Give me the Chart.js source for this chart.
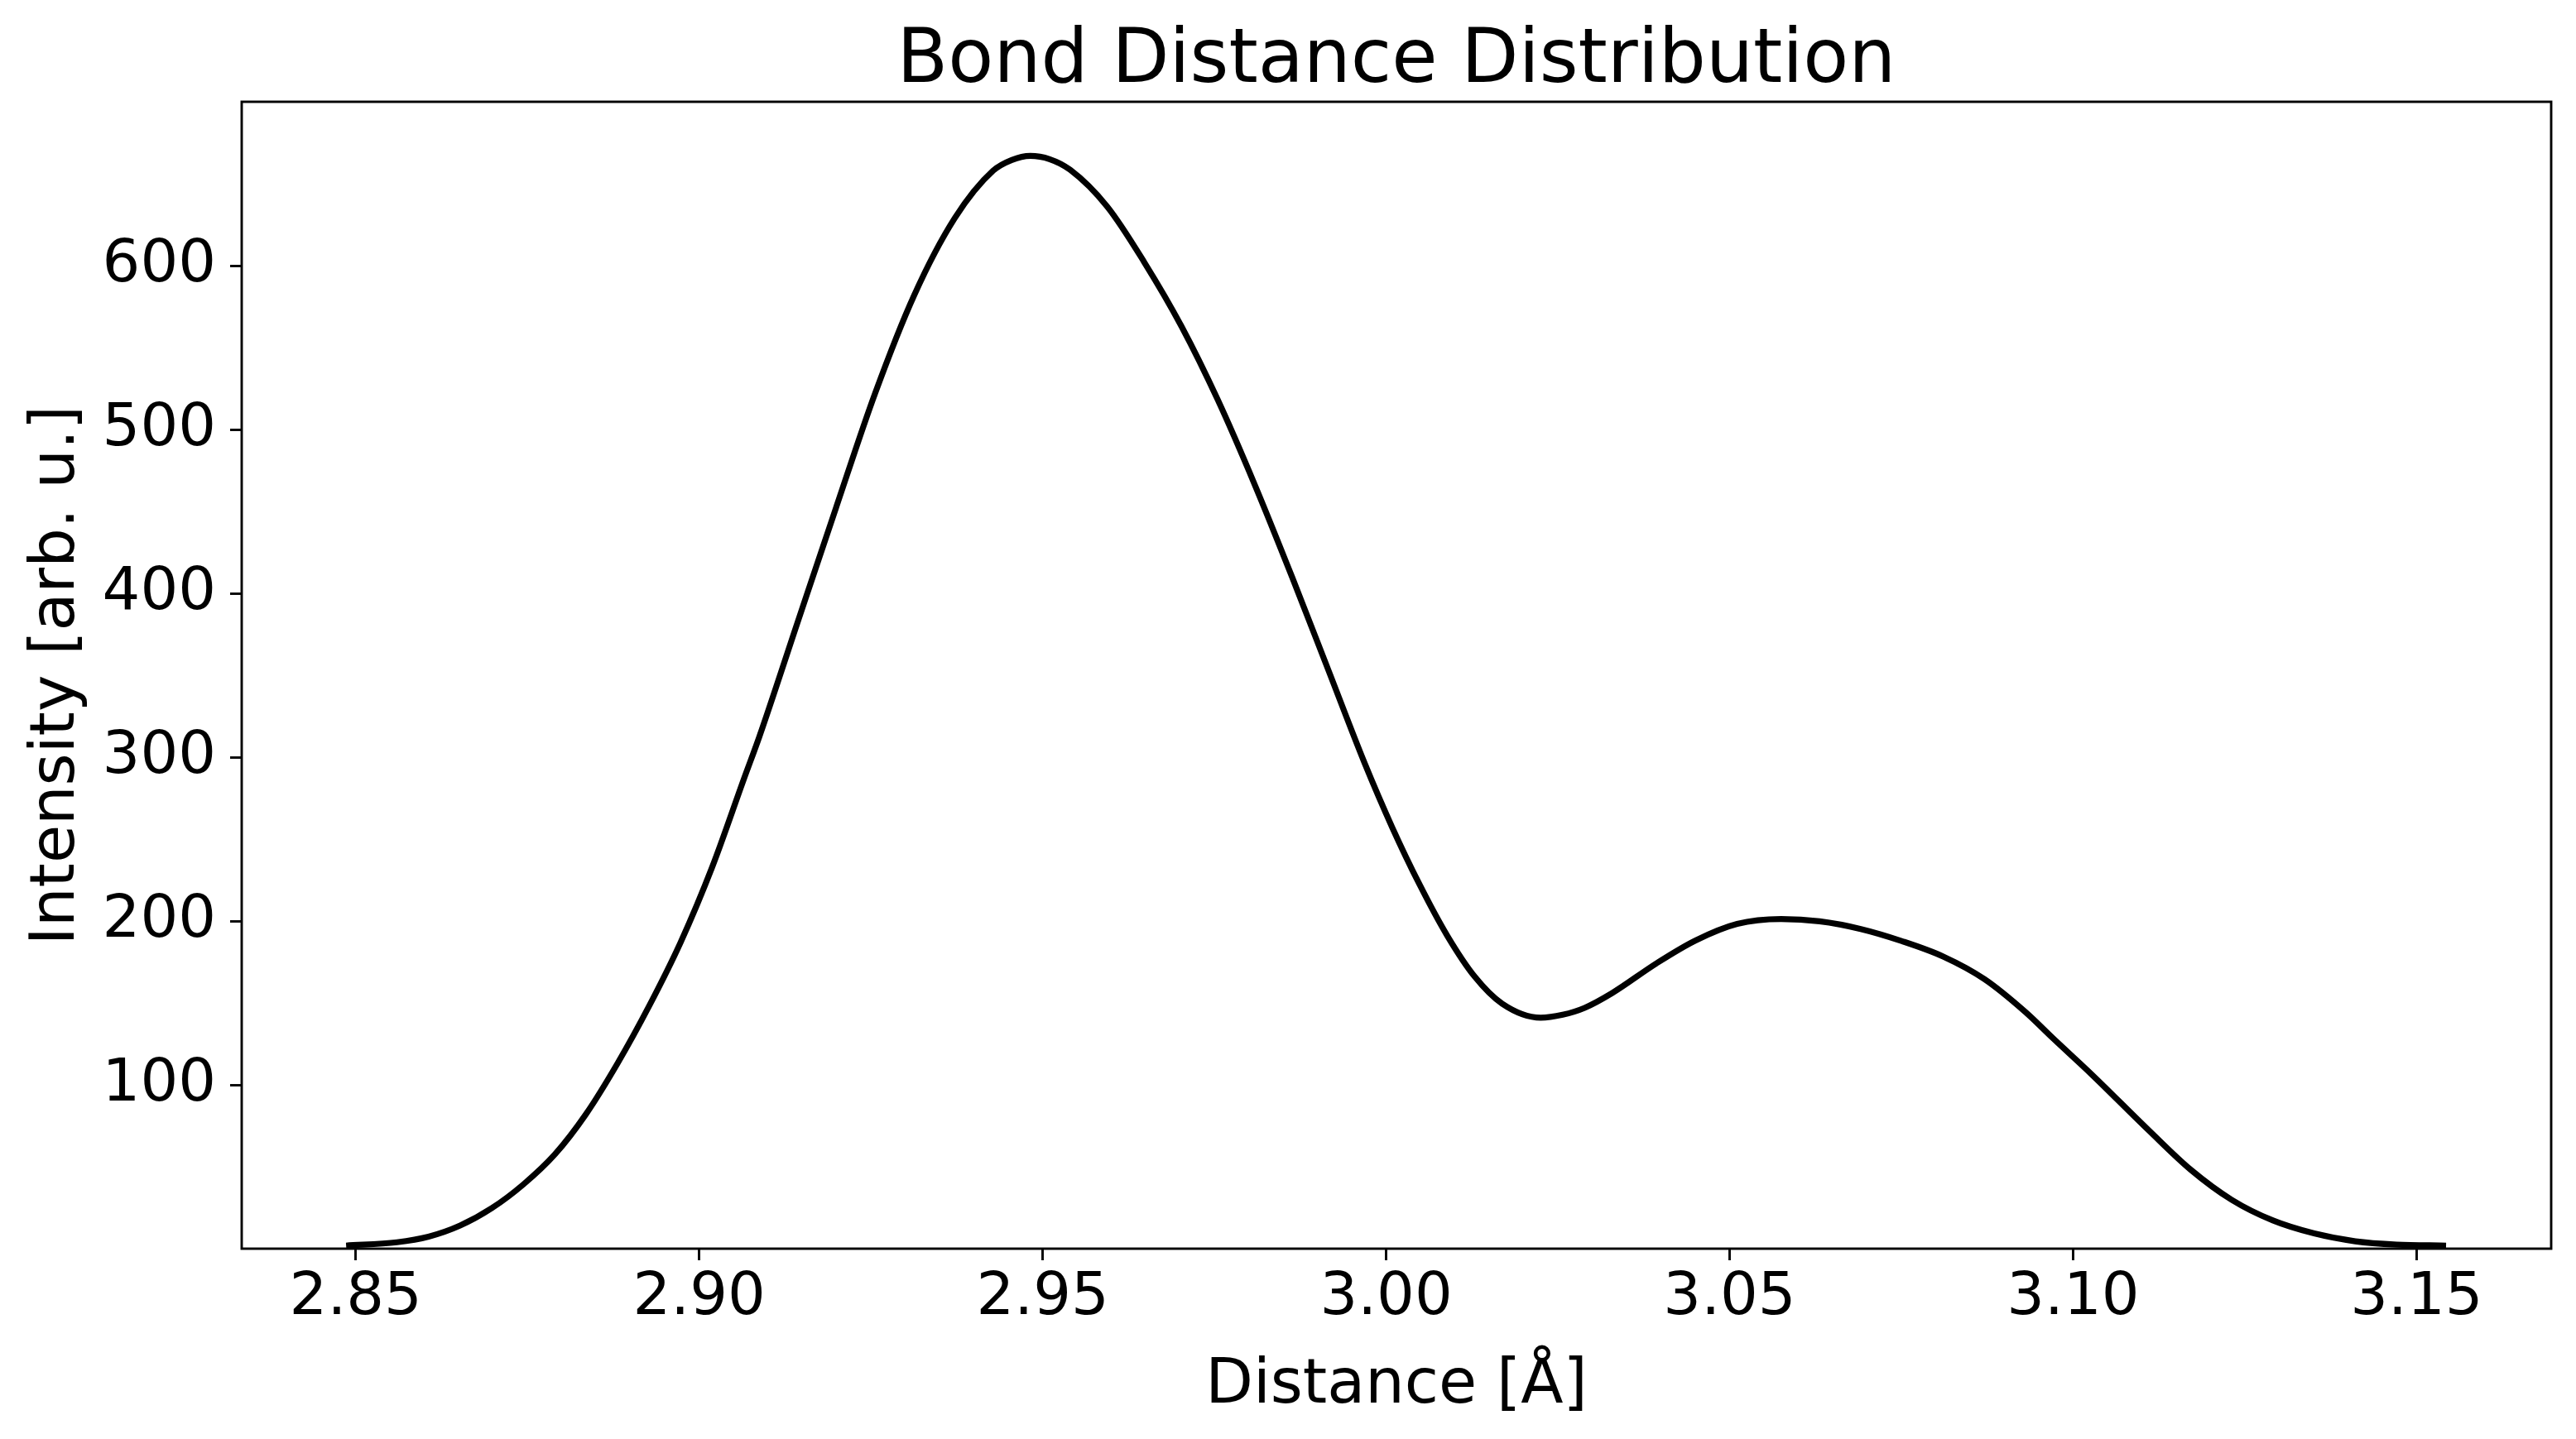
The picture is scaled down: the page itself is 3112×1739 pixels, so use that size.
<!DOCTYPE html>
<html>
<head>
<meta charset="utf-8">
<title>Bond Distance Distribution</title>
<script src="https://cdn.jsdelivr.net/npm/chart.js@4.4.0/dist/chart.umd.min.js"></script>
<style>
  html, body { margin: 0; padding: 0; background: #fff; }
  #wrap { width: 3112px; height: 1739px; }
</style>
</head>
<body>
<div id="wrap"><canvas id="bond_chart" width="3112" height="1739"></canvas></div>
<script>
// values
const distances = [
  2.8486, 2.8560, 2.8606, 2.8652, 2.8698, 2.8744, 2.8790, 2.8835, 2.8881, 2.8927,
  2.8973, 2.9019, 2.9065, 2.9088, 2.9143, 2.9199, 2.9256, 2.9313, 2.9372, 2.9428,
  2.9455, 2.9482, 2.9510, 2.9540, 2.9594, 2.9648, 2.9702, 2.9755, 2.9809, 2.9863,
  2.9916, 2.9969, 3.0009, 3.0049, 3.0089, 3.0129, 3.0169, 3.0225, 3.0257, 3.0289,
  3.0329, 3.0393, 3.0450, 3.0511, 3.0575, 3.0631, 3.0691, 3.0751, 3.0811, 3.0871,
  3.0931, 3.0971, 3.1027, 3.1111, 3.1171, 3.1231, 3.1291, 3.1351, 3.1411, 3.1471,
  3.1543
];
const intensities = [
  1.9, 3.9, 7.3, 14.1, 24.7, 39.2, 57.6, 82, 113, 148,
  187, 233, 286.6, 313, 382, 452, 522, 582, 629, 658,
  664.5, 667, 665, 658.5, 636, 602, 563, 518, 466, 410,
  353, 296, 257, 222, 191, 166, 149.5, 141, 142.8, 147,
  156, 174, 188, 198.2, 201.2, 199.8, 195.1, 187.7, 178.3, 164.5,
  144.3, 128.3, 106.4, 71.9, 48.3, 29.8, 17.2, 9.3, 4.5, 2.5,
  1.9
];
const xTicks = [2.85, 2.90, 2.95, 3.00, 3.05, 3.10, 3.15];
const yTicks = [100, 200, 300, 400, 500, 600];
const xRange = [2.8334, 3.1696];
const yRange = [0, 700];

const FONT = 'DejaVu Sans';
Chart.defaults.color = '#000';
Chart.defaults.font.family = FONT;

const points = distances.map((d, i) => ({ x: d, y: intensities[i] }));

// box around the plot area, drawn above the curve like matplotlib spines
const framePlugin = {
  id: 'frame',
  afterDraw(chart) {
    const { ctx, chartArea: { left, top, right, bottom } } = chart;
    ctx.save();
    ctx.strokeStyle = '#000';
    ctx.lineWidth = 2.9;
    ctx.strokeRect(left, top, right - left, bottom - top);
    ctx.restore();
  }
};

const tickGrid = {
  drawOnChartArea: false,
  drawTicks: true,
  tickLength: 14,
  tickWidth: 2.9,
  tickColor: '#000'
};

new Chart(document.getElementById('bond_chart'), {
  type: 'line',
  data: {
    datasets: [{
      data: points,
      borderColor: '#000',
      borderWidth: 7.2,
      pointRadius: 0,
      fill: false,
      cubicInterpolationMode: 'monotone'
    }]
  },
  options: {
    responsive: false,
    devicePixelRatio: 1,
    animation: false,
    layout: {
      padding: { left: 0, right: 30, top: 0, bottom: 0 }
    },
    plugins: {
      legend: { display: false },
      tooltip: { enabled: false },
      title: {
        display: true,
        fullSize: false,
        text: 'Bond Distance Distribution',
        font: { family: FONT, size: 90, weight: 'normal', lineHeight: 1.05 },
        color: '#000',
        padding: { top: 28, bottom: 0.5 }
      }
    },
    scales: {
      x: {
        type: 'linear',
        min: xRange[0],
        max: xRange[1],
        afterBuildTicks: (scale) => {
          scale.ticks = xTicks.map(v => ({ value: v }));
        },
        afterFit: (scale) => {
          scale.height = 230;
        },
        ticks: {
          font: { size: 72 },
          color: '#000',
          padding: 3,
          maxRotation: 0,
          autoSkip: false,
          callback: (value) => Number(value).toFixed(2)
        },
        grid: tickGrid,
        border: { display: false },
        title: {
          display: true,
          text: 'Distance [Å]',
          font: { size: 75 },
          color: '#000',
          padding: { top: 0, bottom: 18 }
        }
      },
      y: {
        type: 'linear',
        min: yRange[0],
        max: yRange[1],
        afterBuildTicks: (scale) => {
          scale.ticks = yTicks.map(v => ({ value: v }));
        },
        afterFit: (scale) => {
          scale.width = 292;
        },
        ticks: {
          font: { size: 72 },
          color: '#000',
          padding: 17,
          callback: (value) => String(value)
        },
        grid: tickGrid,
        border: { display: false },
        title: {
          display: true,
          text: 'Intensity [arb. u.]',
          font: { size: 75 },
          color: '#000',
          padding: { top: 25, bottom: 0 }
        }
      }
    }
  },
  plugins: [framePlugin]
});
</script>
</body>
</html>
